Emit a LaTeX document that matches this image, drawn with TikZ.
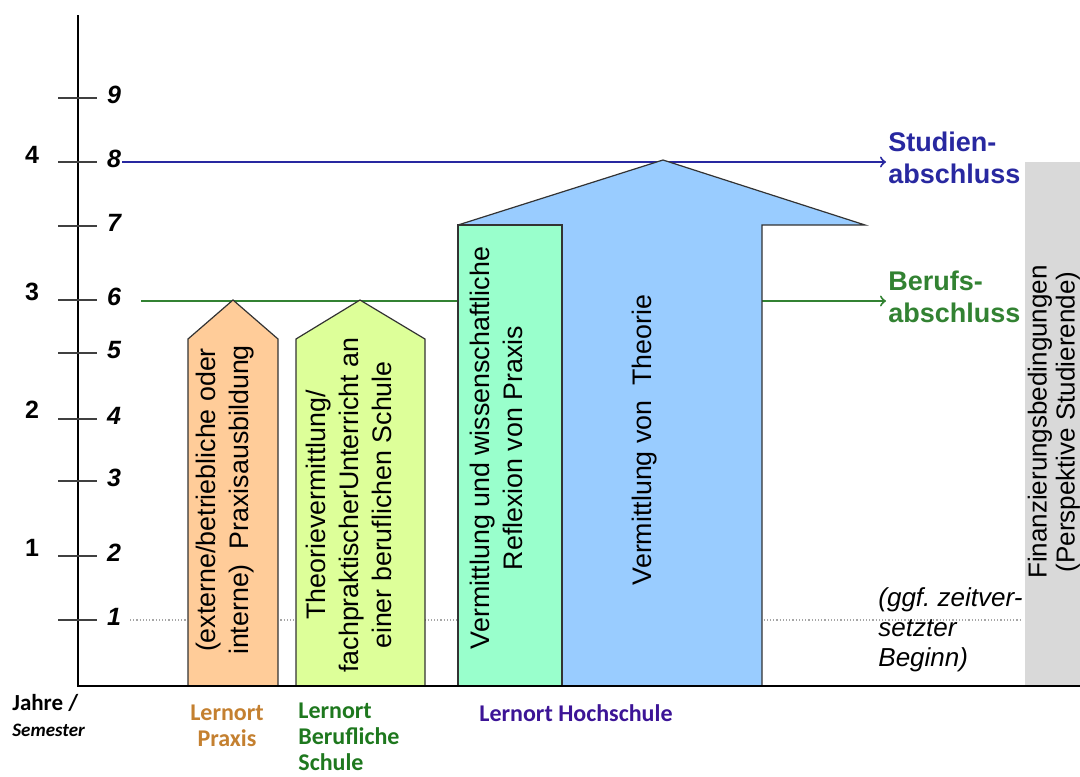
\documentclass[tikz,border=0pt]{standalone}
\usepackage{fontspec}
\setmainfont{Liberation Sans}
\newfontfamily\calibri{Carlito}
\usetikzlibrary{arrows, positioning}
\definecolor{praxisorange}{RGB}{255,204,153}
\definecolor{schulgruen}{RGB}{221,255,153}
\definecolor{reflexmint}{RGB}{153,255,204}
\definecolor{theorieblau}{RGB}{153,204,255}
\definecolor{finanzgrau}{RGB}{217,217,217}
\definecolor{abschlussblau}{RGB}{40,40,160}
\definecolor{abschlussgruen}{RGB}{50,130,50}
\definecolor{lernortbraun}{RGB}{196,128,48}
\definecolor{lernortgruen}{RGB}{30,120,30}
\definecolor{lernortlila}{RGB}{60,20,150}
\tikzset{
    box/.style={draw=black!80, line width=0.6pt}, % outline of the learning places
    boxtext/.style={rotate=90, align=center, font=\fontsize{13.4}{16.5}\selectfont},
    axistick/.style={line width=1pt, black!75},
    semlabel/.style={font=\bfseries\itshape\fontsize{12.5}{14}\selectfont},
    yearlabel/.style={font=\bfseries\fontsize{12.5}{14}\selectfont},
    lernort/.style={font=\calibri\bfseries\fontsize{12}{13}\selectfont, inner sep=0pt},
    goalarrow/.style={->, line width=1pt},
    goallabel/.style={anchor=west, align=left, inner sep=1pt, font=\bfseries\fontsize{13.5}{16}\selectfont},
    }

\begin{document}
\begin{tikzpicture}[x=0.5pt, y=-0.5pt]
\useasboundingbox (0,0) rectangle (1080,776);

% dotted start line
\draw[gray!70, densely dotted, line width=0.6pt] (130,620) -- (1020,620);

% degrees
\coordinate (s8) at (122,162);
\coordinate (s6) at (141,301);
\node[goallabel, abschlussblau] (studien) at (886,158) {Studien-\\abschluss};
\node[goallabel, abschlussgruen] (berufs) at (886,297) {Berufs-\\abschluss};
\draw[goalarrow, abschlussblau] (s8) -- (s8 -| studien.west);
\draw[goalarrow, abschlussgruen] (s6) -- (s6 -| berufs.west);

% financing
\fill[finanzgrau] (1025,162) rectangle (1080,686);
\node[boxtext, font=\fontsize{13}{14}\selectfont] (finanz) at (1054,422) {Finanzierungsbedingungen\\(Perspektive Studierende)};

% learning places
\draw[box, fill=praxisorange] (188,686) -- (188,339) -- (233,300) -- (278,339) -- (278,686) -- cycle;
\draw[box, fill=schulgruen] (296,686) -- (296,339) -- (360,300) -- (425,339) -- (425,686) -- cycle;
\draw[box, fill=theorieblau] (458,686) -- (458,225) -- (663,160) -- (865,225) -- (762,225) -- (762,686) -- cycle;
\draw[box, fill=reflexmint] (458,686) rectangle (562,225);

\node[boxtext] (praxis) at (225,500) {(externe/betriebliche oder\\interne)~ Praxisausbildung};
\node[boxtext] (schule) at (349,505) {Theorievermittlung/\\fachpraktischerUnterricht an\\einer beruflichen Schule};
\node[boxtext] (reflexion) at (496,448) {Vermittlung und wissenschaftliche\\Reflexion von Praxis};
\node[boxtext] (theorie) at (645,440) {Vermittlung von~ Theorie};

\node[anchor=west, inner sep=0pt, align=left, font=\itshape\fontsize{13}{15}\selectfont] (beginn) at (878,630) {(ggf.\ zeitver-\\setzter\\Beginn)};

% axes
\draw[line width=1pt] (78,15) -- (78,686) -- (1080,686);
\foreach \s/\y in {1/620,2/556,3/481,4/419,5/353,6/300,7/226,8/162,9/98}{
    \draw[axistick] (58,\y) -- (97,\y);
    \node[semlabel] (sem\s) at (114,\y-3) {\s};
}
\foreach \j/\y in {1/548,2/410,3/292,4/155}
    \node[yearlabel] (jahr\j) at (32,\y) {\j};

\node[font=\calibri\bfseries\fontsize{11.5}{12}\selectfont, anchor=west, inner sep=0pt] (jahre) at (12,703) {Jahre /};
\node[font=\calibri\bfseries\itshape\fontsize{9.5}{11}\selectfont, anchor=west, inner sep=0pt] (semester) at (12,730) {Semester};

\node[lernort, lernortbraun, align=center] (lpraxis) at (227,726) {Lernort\\Praxis};
\node[lernort, lernortgruen, align=left, anchor=west] (lschule) at (298,737) {Lernort\\Berufliche\\Schule};
\node[lernort, lernortlila] (lhoch) at (576,713) {Lernort Hochschule};
\end{tikzpicture}
\end{document}
